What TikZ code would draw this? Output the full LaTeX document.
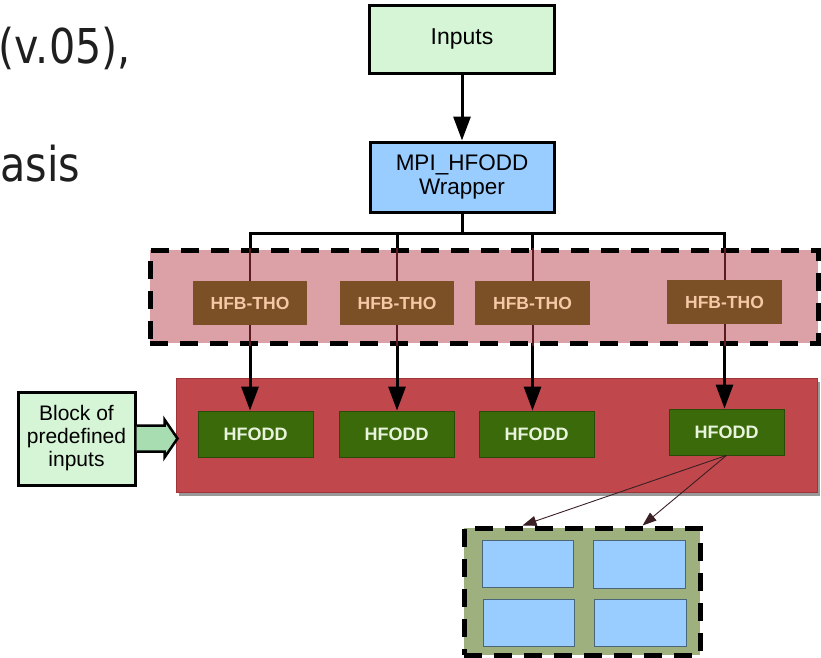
\documentclass[tikz,border=0pt]{standalone}
\usepackage{fontspec}
\setmainfont{Liberation Sans}
\newfontfamily\titlefont[FakeStretch=0.86]{DejaVu Sans}
\usetikzlibrary{arrows.meta,calc,shadows}
\definecolor{inputsgreen}{HTML}{D6F5D6}
\definecolor{mpiblue}{HTML}{99CCFF}
\definecolor{pinkc}{HTML}{DBA1A6}
\definecolor{brownc}{HTML}{7B5027}
\definecolor{hfbtext}{HTML}{F4C9A6}
\definecolor{redc}{HTML}{C0484C}
\definecolor{redborder}{HTML}{A03438}
\definecolor{hfoddgreen}{HTML}{3B6A0B}
\definecolor{hfoddborder}{HTML}{2A4A08}
\definecolor{hfoddtext}{HTML}{E8F4DC}
\definecolor{olivec}{HTML}{9FB07F}
\definecolor{innerborder}{HTML}{4A6678}
\definecolor{arrowgreen}{HTML}{A8DDB2}
\definecolor{maroonc}{HTML}{5A1A1E}
\definecolor{thinc}{HTML}{3A2024}
\pgfdeclarelayer{bg}
\pgfdeclarelayer{mid}
\pgfsetlayers{bg,mid,main}
\tikzset{
  topbox/.style={draw=black, line width=3pt, align=center, inner sep=0pt},
  hfbbox/.style={fill=brownc, text=hfbtext, minimum width=114pt, minimum height=44pt,
    inner sep=0pt, font=\bfseries\fontsize{17.5}{19}\selectfont},
  hfoddbox/.style={fill=hfoddgreen, draw=hfoddborder, line width=0.8pt, text=hfoddtext,
    minimum width=115pt, minimum height=46pt, inner sep=0pt,
    font=\bfseries\fontsize{18}{19}\selectfont},
  innerbox/.style={fill=mpiblue, draw=innerborder, line width=1pt, inner sep=0pt,
    minimum width=91pt, minimum height=47pt},
  bigarrow/.style={line width=3pt, -{Triangle[length=24pt,width=17pt]}},
  thinarrow/.style={draw=thinc, line width=0.9pt, -{Triangle[length=14pt,width=10pt]}},
  bigdash/.style={draw=black, line width=5pt, dash pattern=on 18pt off 12pt},
  bigtext/.style={inner sep=0pt, font=\titlefont\fontsize{48}{56}\selectfont, text=black!88}
}
\begin{document}
\begin{tikzpicture}[x=1pt,y=-1pt]
\useasboundingbox (0,0) rectangle (821,657);
\clip (0,0) rectangle (821,657);

% cut-off slide text
\node[bigtext, anchor=base east] (t1) at (131,63) {(v.05),};
\node[bigtext, anchor=base west] (t2) at (0,181) {asis};

% top boxes
\node[topbox, fill=inputsgreen, minimum width=185pt, minimum height=68pt,
      font=\fontsize{23}{25}\selectfont] (inputs) at (462,39) {Inputs};
\node[topbox, fill=mpiblue, minimum width=184pt, minimum height=70pt,
      font=\fontsize{22.5}{24}\selectfont] (mpi) at (462,177) {MPI\_HFODD\\Wrapper};
\draw[bigarrow] (inputs) -- (mpi);

% HFB-THO boxes
\node[hfbbox] (hfb1) at (250,303) {HFB-THO};
\node[hfbbox] (hfb2) at (397,303) {HFB-THO};
\node[hfbbox, minimum width=115pt] (hfb3) at (532.5,303) {HFB-THO};
\node[hfbbox, minimum width=115pt] (hfb4) at (724.5,302) {HFB-THO};

% HFODD boxes
\node[hfoddbox] (hfodd1) at (255.5,434) {HFODD};
\node[hfoddbox] (hfodd2) at (396.5,434) {HFODD};
\node[hfoddbox] (hfodd3) at (536.5,434) {HFODD};
\node[hfoddbox] (hfodd4) at (726.5,432) {HFODD};

% bus
\coordinate (busy) at (0,233);
\draw[line width=3pt, line cap=rect] (mpi.south) -- (mpi.south |- busy);
\draw[line width=3pt, line cap=rect] (hfb1.north |- busy) -- (hfb4.north |- busy);

\begin{pgfonlayer}{bg}
  \node[fill=redc, draw=redborder, line width=1pt, minimum width=641pt, minimum height=114pt,
        inner sep=0pt, drop shadow={shadow xshift=3pt, shadow yshift=-4pt, fill=gray, opacity=0.8}]
        (red) at (496.5,435) {};
  \draw[bigarrow] (hfb1.north |- busy) -- (hfb1.north |- hfodd1.north);
  \draw[bigarrow] (hfb2.north |- busy) -- (hfb2.north |- hfodd2.north);
  \draw[bigarrow] (hfb3.north |- busy) -- (hfb3.north |- hfodd3.north);
  \draw[bigarrow] (hfb4.north |- busy) -- (hfb4.north |- hfodd4.north);
\end{pgfonlayer}

\begin{pgfonlayer}{mid}
  \node[fill=pinkc, bigdash, minimum width=668pt, minimum height=93pt, inner sep=0pt]
        (pink) at (484,296.5) {};
  \foreach \i in {1,2,3,4}{
    \draw[maroonc, line width=2pt] (hfb\i.north |- pink.north) -- (hfb\i.south |- pink.south);
  }
\end{pgfonlayer}

% block of predefined inputs
\node[topbox, fill=inputsgreen, minimum width=117pt, minimum height=93pt,
      font=\fontsize{21}{23}\selectfont] (block) at (76.5,438.5) {Block of\\predefined\\inputs};
\draw[fill=arrowgreen, line width=2.5pt, line join=miter]
  ($(block.east)+(0,-13)$) -- ($(block.east)+(28,-13)$) -- ($(block.east)+(28,-19)$)
  -- ($(block.east)+(41,0)$) -- ($(block.east)+(28,19)$) -- ($(block.east)+(28,13)$)
  -- ($(block.east)+(0,13)$);

% lower block
\node[fill=olivec, bigdash, minimum width=236pt, minimum height=127pt, inner sep=0pt]
      (green) at (582,591.5) {};
\node[innerbox] (b1) at (527.5,563.5) {};
\node[innerbox, minimum width=92pt, minimum height=48pt] (b2) at (639,564) {};
\node[innerbox] (b3) at (528.5,622.5) {};
\node[innerbox, minimum width=92pt] (b4) at (640,622.5) {};

\draw[thinarrow] (hfodd4.south) -- ($(green.north west)+(61,0)$);
\draw[thinarrow] (hfodd4.south) -- ($(green.north west)+(181,0)$);
\end{tikzpicture}
\end{document}
